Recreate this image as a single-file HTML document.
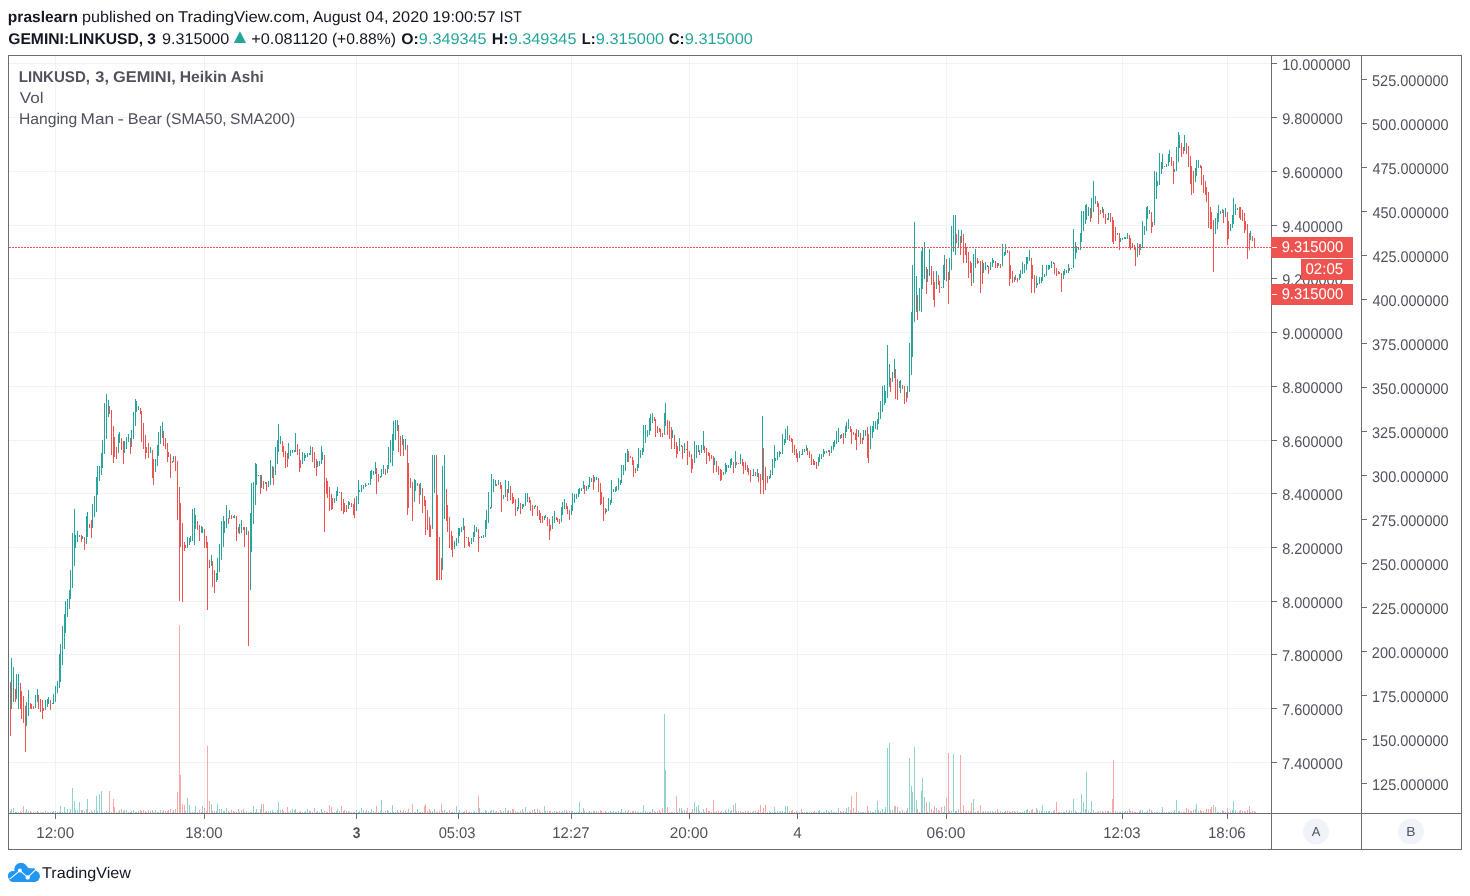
<!DOCTYPE html>
<html lang="en">
<head>
<meta charset="utf-8">
<title>LINKUSD chart - TradingView</title>
<style>
html,body{margin:0;padding:0;background:#fff;}
body{width:1470px;height:896px;overflow:hidden;font-family:"Liberation Sans", "DejaVu Sans", sans-serif;}
svg{display:block;}
text{white-space:pre;}
</style>
</head>
<body>
<svg width="1470" height="896" viewBox="0 0 1470 896">
<rect x="0" y="0" width="1470" height="896" fill="#ffffff"/>
<g shape-rendering="crispEdges">
<rect x="9" y="63" width="1262" height="1" fill="#f1f2f8"/>
<rect x="9" y="117" width="1262" height="1" fill="#f1f2f8"/>
<rect x="9" y="171" width="1262" height="1" fill="#f1f2f8"/>
<rect x="9" y="225" width="1262" height="1" fill="#f1f2f8"/>
<rect x="9" y="278" width="1262" height="1" fill="#f1f2f8"/>
<rect x="9" y="332" width="1262" height="1" fill="#f1f2f8"/>
<rect x="9" y="386" width="1262" height="1" fill="#f1f2f8"/>
<rect x="9" y="440" width="1262" height="1" fill="#f1f2f8"/>
<rect x="9" y="493" width="1262" height="1" fill="#f1f2f8"/>
<rect x="9" y="547" width="1262" height="1" fill="#f1f2f8"/>
<rect x="9" y="601" width="1262" height="1" fill="#f1f2f8"/>
<rect x="9" y="654" width="1262" height="1" fill="#f1f2f8"/>
<rect x="9" y="708" width="1262" height="1" fill="#f1f2f8"/>
<rect x="9" y="762" width="1262" height="1" fill="#f1f2f8"/>
<rect x="55" y="56" width="1" height="757" fill="#f1f2f8"/>
<rect x="204" y="56" width="1" height="757" fill="#f1f2f8"/>
<rect x="356" y="56" width="1" height="757" fill="#f1f2f8"/>
<rect x="458" y="56" width="1" height="757" fill="#f1f2f8"/>
<rect x="571" y="56" width="1" height="757" fill="#f1f2f8"/>
<rect x="689" y="56" width="1" height="757" fill="#f1f2f8"/>
<rect x="797" y="56" width="1" height="757" fill="#f1f2f8"/>
<rect x="946" y="56" width="1" height="757" fill="#f1f2f8"/>
<rect x="1122" y="56" width="1" height="757" fill="#f1f2f8"/>
<rect x="1227" y="56" width="1" height="757" fill="#f1f2f8"/>
</g>
<g shape-rendering="crispEdges">
<path fill="#92d2cc" d="M11 809v4h1v-4zM13 808v5h1v-5zM16 812v1h1v-1zM18 812v1h1v-1zM26 809v4h1v-4zM28 811v2h1v-2zM35 812v1h1v-1zM37 811v2h1v-2zM45 811v2h1v-2zM47 812v1h1v-1zM48 812v1h1v-1zM52 812v1h1v-1zM53 811v2h1v-2zM55 811v2h1v-2zM57 812v1h1v-1zM59 812v1h1v-1zM60 806v7h1v-7zM62 812v1h1v-1zM64 807v6h1v-6zM65 812v1h1v-1zM67 809v4h1v-4zM69 812v1h1v-1zM70 809v4h1v-4zM72 788v25h1v-25zM74 801v12h1v-12zM75 810v3h1v-3zM77 810v3h1v-3zM79 802v11h1v-11zM82 810v3h1v-3zM86 809v4h1v-4zM87 799v14h1v-14zM92 812v1h1v-1zM94 810v3h1v-3zM96 796v17h1v-17zM97 811v2h1v-2zM99 794v19h1v-19zM101 791v22h1v-22zM102 812v1h1v-1zM104 812v1h1v-1zM106 811v2h1v-2zM108 812v1h1v-1zM118 812v1h1v-1zM119 810v3h1v-3zM124 810v3h1v-3zM126 810v3h1v-3zM128 812v1h1v-1zM131 811v2h1v-2zM133 810v3h1v-3zM135 812v1h1v-1zM136 812v1h1v-1zM138 811v2h1v-2zM150 811v2h1v-2zM155 810v3h1v-3zM157 812v1h1v-1zM158 812v1h1v-1zM160 810v3h1v-3zM162 812v1h1v-1zM173 810v3h1v-3zM187 798v15h1v-15zM189 805v8h1v-8zM190 812v1h1v-1zM192 812v1h1v-1zM194 812v1h1v-1zM195 806v7h1v-7zM201 812v1h1v-1zM202 806v7h1v-7zM211 804v9h1v-9zM216 811v2h1v-2zM217 804v9h1v-9zM219 809v4h1v-4zM221 809v4h1v-4zM223 811v2h1v-2zM224 811v2h1v-2zM226 808v5h1v-5zM229 812v1h1v-1zM234 812v1h1v-1zM239 812v1h1v-1zM241 810v3h1v-3zM246 811v2h1v-2zM250 812v1h1v-1zM251 812v1h1v-1zM253 806v7h1v-7zM255 812v1h1v-1zM256 809v4h1v-4zM258 812v1h1v-1zM261 804v9h1v-9zM265 812v1h1v-1zM268 811v2h1v-2zM270 811v2h1v-2zM272 810v3h1v-3zM275 812v1h1v-1zM277 810v3h1v-3zM278 802v11h1v-11zM280 810v3h1v-3zM288 812v1h1v-1zM290 811v2h1v-2zM292 809v4h1v-4zM294 810v3h1v-3zM295 809v4h1v-4zM302 812v1h1v-1zM304 812v1h1v-1zM305 811v2h1v-2zM307 809v4h1v-4zM309 811v2h1v-2zM310 811v2h1v-2zM317 811v2h1v-2zM319 812v1h1v-1zM321 809v4h1v-4zM322 812v1h1v-1zM334 812v1h1v-1zM336 811v2h1v-2zM337 809v4h1v-4zM339 811v2h1v-2zM348 811v2h1v-2zM349 812v1h1v-1zM356 810v3h1v-3zM358 812v1h1v-1zM359 811v2h1v-2zM361 808v5h1v-5zM363 810v3h1v-3zM365 812v1h1v-1zM368 811v2h1v-2zM370 812v1h1v-1zM371 809v4h1v-4zM373 811v2h1v-2zM375 812v1h1v-1zM380 811v2h1v-2zM381 800v13h1v-13zM383 812v1h1v-1zM387 810v3h1v-3zM388 811v2h1v-2zM390 812v1h1v-1zM392 805v8h1v-8zM393 812v1h1v-1zM395 812v1h1v-1zM397 810v3h1v-3zM402 812v1h1v-1zM405 811v2h1v-2zM414 812v1h1v-1zM415 812v1h1v-1zM417 809v4h1v-4zM420 812v1h1v-1zM432 811v2h1v-2zM434 809v4h1v-4zM442 811v2h1v-2zM444 810v3h1v-3zM454 812v1h1v-1zM456 806v7h1v-7zM458 812v1h1v-1zM459 810v3h1v-3zM461 812v1h1v-1zM463 812v1h1v-1zM471 812v1h1v-1zM473 812v1h1v-1zM474 811v2h1v-2zM476 812v1h1v-1zM479 808v5h1v-5zM481 812v1h1v-1zM483 812v1h1v-1zM485 810v3h1v-3zM486 811v2h1v-2zM488 812v1h1v-1zM491 810v3h1v-3zM493 810v3h1v-3zM495 812v1h1v-1zM498 812v1h1v-1zM503 811v2h1v-2zM505 808v5h1v-5zM508 810v3h1v-3zM517 812v1h1v-1zM518 812v1h1v-1zM523 812v1h1v-1zM525 807v6h1v-6zM527 812v1h1v-1zM534 809v4h1v-4zM535 812v1h1v-1zM544 806v7h1v-7zM545 811v2h1v-2zM552 812v1h1v-1zM554 811v2h1v-2zM561 812v1h1v-1zM562 811v2h1v-2zM564 810v3h1v-3zM571 811v2h1v-2zM572 811v2h1v-2zM574 812v1h1v-1zM576 812v1h1v-1zM578 812v1h1v-1zM579 802v11h1v-11zM581 812v1h1v-1zM583 808v5h1v-5zM586 812v1h1v-1zM588 812v1h1v-1zM589 811v2h1v-2zM591 812v1h1v-1zM594 811v2h1v-2zM596 811v2h1v-2zM606 812v1h1v-1zM608 812v1h1v-1zM610 811v2h1v-2zM611 812v1h1v-1zM613 811v2h1v-2zM615 812v1h1v-1zM616 812v1h1v-1zM618 811v2h1v-2zM620 812v1h1v-1zM621 809v4h1v-4zM623 812v1h1v-1zM625 811v2h1v-2zM627 812v1h1v-1zM637 812v1h1v-1zM638 812v1h1v-1zM640 812v1h1v-1zM642 812v1h1v-1zM643 805v8h1v-8zM645 811v2h1v-2zM647 812v1h1v-1zM649 812v1h1v-1zM650 812v1h1v-1zM652 809v4h1v-4zM664 714v99h1v-99zM665 770v43h1v-43zM672 812v1h1v-1zM679 808v5h1v-5zM681 808v5h1v-5zM684 810v3h1v-3zM694 802v11h1v-11zM696 807v6h1v-6zM698 805v8h1v-8zM701 812v1h1v-1zM703 809v4h1v-4zM714 812v1h1v-1zM723 812v1h1v-1zM725 810v3h1v-3zM726 812v1h1v-1zM728 809v4h1v-4zM730 811v2h1v-2zM731 810v3h1v-3zM735 803v10h1v-10zM740 811v2h1v-2zM752 812v1h1v-1zM753 811v2h1v-2zM757 812v1h1v-1zM762 812v1h1v-1zM769 811v2h1v-2zM770 812v1h1v-1zM772 812v1h1v-1zM774 807v6h1v-6zM775 812v1h1v-1zM777 811v2h1v-2zM779 812v1h1v-1zM780 811v2h1v-2zM782 811v2h1v-2zM784 812v1h1v-1zM785 806v7h1v-7zM787 806v7h1v-7zM799 812v1h1v-1zM802 812v1h1v-1zM804 812v1h1v-1zM806 812v1h1v-1zM818 811v2h1v-2zM819 810v3h1v-3zM821 812v1h1v-1zM823 812v1h1v-1zM824 812v1h1v-1zM826 810v3h1v-3zM828 811v2h1v-2zM831 810v3h1v-3zM833 812v1h1v-1zM834 812v1h1v-1zM836 812v1h1v-1zM838 808v5h1v-5zM841 812v1h1v-1zM845 812v1h1v-1zM846 808v5h1v-5zM848 807v6h1v-6zM858 811v2h1v-2zM863 812v1h1v-1zM865 812v1h1v-1zM870 811v2h1v-2zM872 812v1h1v-1zM873 812v1h1v-1zM875 810v3h1v-3zM877 801v12h1v-12zM878 810v3h1v-3zM880 811v2h1v-2zM882 809v4h1v-4zM884 812v1h1v-1zM885 807v6h1v-6zM887 748v65h1v-65zM889 743v70h1v-70zM892 810v3h1v-3zM894 806v7h1v-7zM899 811v2h1v-2zM900 812v1h1v-1zM907 808v5h1v-5zM909 758v55h1v-55zM911 786v27h1v-27zM912 792v21h1v-21zM914 747v66h1v-66zM916 800v13h1v-13zM919 812v1h1v-1zM921 791v22h1v-22zM922 778v35h1v-35zM924 797v16h1v-16zM927 812v1h1v-1zM929 802v11h1v-11zM936 808v5h1v-5zM943 812v1h1v-1zM944 806v7h1v-7zM949 811v2h1v-2zM951 811v2h1v-2zM953 754v59h1v-59zM955 811v2h1v-2zM958 809v4h1v-4zM961 812v1h1v-1zM973 799v14h1v-14zM975 812v1h1v-1zM983 811v2h1v-2zM985 811v2h1v-2zM987 812v1h1v-1zM990 811v2h1v-2zM992 811v2h1v-2zM993 812v1h1v-1zM998 812v1h1v-1zM1002 812v1h1v-1zM1004 812v1h1v-1zM1005 811v2h1v-2zM1015 812v1h1v-1zM1019 812v1h1v-1zM1020 812v1h1v-1zM1022 812v1h1v-1zM1024 811v2h1v-2zM1026 810v3h1v-3zM1027 809v4h1v-4zM1029 811v2h1v-2zM1036 808v5h1v-5zM1039 811v2h1v-2zM1041 811v2h1v-2zM1042 805v8h1v-8zM1044 811v2h1v-2zM1046 811v2h1v-2zM1048 811v2h1v-2zM1049 811v2h1v-2zM1051 812v1h1v-1zM1053 811v2h1v-2zM1063 812v1h1v-1zM1064 812v1h1v-1zM1066 810v3h1v-3zM1068 812v1h1v-1zM1071 811v2h1v-2zM1073 799v14h1v-14zM1075 811v2h1v-2zM1076 812v1h1v-1zM1078 812v1h1v-1zM1080 812v1h1v-1zM1081 794v19h1v-19zM1083 802v11h1v-11zM1085 809v4h1v-4zM1086 772v41h1v-41zM1088 811v2h1v-2zM1091 801v12h1v-12zM1093 810v3h1v-3zM1095 812v1h1v-1zM1102 811v2h1v-2zM1108 811v2h1v-2zM1117 812v1h1v-1zM1120 812v1h1v-1zM1122 811v2h1v-2zM1124 812v1h1v-1zM1125 811v2h1v-2zM1127 811v2h1v-2zM1137 812v1h1v-1zM1140 810v3h1v-3zM1142 810v3h1v-3zM1144 812v1h1v-1zM1146 812v1h1v-1zM1147 811v2h1v-2zM1149 809v4h1v-4zM1154 812v1h1v-1zM1156 812v1h1v-1zM1157 812v1h1v-1zM1159 812v1h1v-1zM1161 812v1h1v-1zM1162 807v6h1v-6zM1166 812v1h1v-1zM1168 812v1h1v-1zM1169 812v1h1v-1zM1174 810v3h1v-3zM1176 800v13h1v-13zM1178 811v2h1v-2zM1179 811v2h1v-2zM1184 812v1h1v-1zM1195 809v4h1v-4zM1196 804v9h1v-9zM1198 811v2h1v-2zM1215 807v6h1v-6zM1217 812v1h1v-1zM1218 812v1h1v-1zM1220 812v1h1v-1zM1222 810v3h1v-3zM1225 812v1h1v-1zM1230 811v2h1v-2zM1232 810v3h1v-3zM1233 801v12h1v-12zM1235 810v3h1v-3zM1237 812v1h1v-1zM1250 812v1h1v-1z"/>
<path fill="#f7a9a7" d="M10 811v2h1v-2zM15 812v1h1v-1zM20 811v2h1v-2zM21 812v1h1v-1zM23 806v7h1v-7zM25 812v1h1v-1zM30 811v2h1v-2zM31 812v1h1v-1zM33 812v1h1v-1zM38 812v1h1v-1zM40 812v1h1v-1zM42 812v1h1v-1zM43 812v1h1v-1zM50 812v1h1v-1zM81 810v3h1v-3zM84 811v2h1v-2zM89 812v1h1v-1zM91 810v3h1v-3zM109 791v22h1v-22zM111 812v1h1v-1zM113 799v14h1v-14zM114 807v6h1v-6zM116 812v1h1v-1zM121 809v4h1v-4zM123 811v2h1v-2zM130 812v1h1v-1zM140 810v3h1v-3zM141 811v2h1v-2zM143 810v3h1v-3zM145 811v2h1v-2zM146 812v1h1v-1zM148 810v3h1v-3zM152 810v3h1v-3zM153 812v1h1v-1zM163 810v3h1v-3zM165 811v2h1v-2zM167 811v2h1v-2zM168 810v3h1v-3zM170 809v4h1v-4zM172 812v1h1v-1zM175 809v4h1v-4zM177 792v21h1v-21zM179 625v188h1v-188zM180 775v38h1v-38zM182 804v9h1v-9zM184 805v8h1v-8zM185 811v2h1v-2zM197 812v1h1v-1zM199 810v3h1v-3zM204 808v5h1v-5zM206 811v2h1v-2zM207 746v67h1v-67zM209 801v12h1v-12zM212 811v2h1v-2zM214 811v2h1v-2zM228 811v2h1v-2zM231 810v3h1v-3zM233 811v2h1v-2zM236 812v1h1v-1zM238 809v4h1v-4zM243 809v4h1v-4zM244 812v1h1v-1zM248 812v1h1v-1zM260 809v4h1v-4zM263 804v9h1v-9zM266 811v2h1v-2zM273 812v1h1v-1zM282 809v4h1v-4zM283 811v2h1v-2zM285 812v1h1v-1zM287 807v6h1v-6zM297 812v1h1v-1zM299 812v1h1v-1zM300 811v2h1v-2zM312 812v1h1v-1zM314 808v5h1v-5zM316 812v1h1v-1zM324 811v2h1v-2zM326 812v1h1v-1zM327 812v1h1v-1zM329 805v8h1v-8zM331 807v6h1v-6zM332 812v1h1v-1zM341 806v7h1v-7zM343 811v2h1v-2zM344 810v3h1v-3zM346 811v2h1v-2zM351 812v1h1v-1zM353 812v1h1v-1zM354 812v1h1v-1zM366 810v3h1v-3zM376 806v7h1v-7zM378 812v1h1v-1zM385 811v2h1v-2zM398 812v1h1v-1zM400 810v3h1v-3zM403 810v3h1v-3zM407 812v1h1v-1zM408 809v4h1v-4zM410 812v1h1v-1zM412 804v9h1v-9zM419 812v1h1v-1zM422 812v1h1v-1zM424 806v7h1v-7zM425 804v9h1v-9zM427 811v2h1v-2zM429 809v4h1v-4zM430 811v2h1v-2zM436 812v1h1v-1zM437 812v1h1v-1zM439 811v2h1v-2zM441 804v9h1v-9zM446 812v1h1v-1zM447 812v1h1v-1zM449 810v3h1v-3zM451 812v1h1v-1zM452 812v1h1v-1zM464 811v2h1v-2zM466 810v3h1v-3zM468 812v1h1v-1zM469 812v1h1v-1zM478 796v17h1v-17zM490 811v2h1v-2zM496 811v2h1v-2zM500 810v3h1v-3zM501 812v1h1v-1zM507 811v2h1v-2zM510 811v2h1v-2zM512 809v4h1v-4zM513 809v4h1v-4zM515 811v2h1v-2zM520 811v2h1v-2zM522 809v4h1v-4zM529 811v2h1v-2zM530 812v1h1v-1zM532 810v3h1v-3zM537 809v4h1v-4zM539 810v3h1v-3zM540 812v1h1v-1zM542 812v1h1v-1zM547 811v2h1v-2zM549 811v2h1v-2zM550 811v2h1v-2zM556 811v2h1v-2zM557 812v1h1v-1zM559 811v2h1v-2zM566 810v3h1v-3zM567 812v1h1v-1zM569 811v2h1v-2zM584 811v2h1v-2zM593 811v2h1v-2zM598 812v1h1v-1zM600 810v3h1v-3zM601 811v2h1v-2zM603 812v1h1v-1zM605 811v2h1v-2zM628 810v3h1v-3zM630 812v1h1v-1zM632 811v2h1v-2zM633 811v2h1v-2zM635 811v2h1v-2zM654 811v2h1v-2zM655 812v1h1v-1zM657 811v2h1v-2zM659 810v3h1v-3zM660 812v1h1v-1zM662 808v5h1v-5zM667 807v6h1v-6zM669 812v1h1v-1zM671 812v1h1v-1zM674 812v1h1v-1zM676 796v17h1v-17zM677 812v1h1v-1zM682 811v2h1v-2zM686 811v2h1v-2zM687 808v5h1v-5zM689 812v1h1v-1zM691 812v1h1v-1zM692 809v4h1v-4zM699 811v2h1v-2zM704 812v1h1v-1zM706 808v5h1v-5zM708 811v2h1v-2zM709 811v2h1v-2zM711 812v1h1v-1zM713 800v13h1v-13zM716 811v2h1v-2zM718 811v2h1v-2zM720 812v1h1v-1zM721 811v2h1v-2zM733 805v8h1v-8zM736 811v2h1v-2zM738 811v2h1v-2zM742 812v1h1v-1zM743 812v1h1v-1zM745 811v2h1v-2zM747 812v1h1v-1zM748 811v2h1v-2zM750 812v1h1v-1zM755 811v2h1v-2zM758 810v3h1v-3zM760 805v8h1v-8zM763 808v5h1v-5zM765 805v8h1v-8zM767 812v1h1v-1zM789 811v2h1v-2zM791 811v2h1v-2zM792 810v3h1v-3zM794 812v1h1v-1zM796 811v2h1v-2zM797 812v1h1v-1zM801 809v4h1v-4zM807 812v1h1v-1zM809 812v1h1v-1zM811 812v1h1v-1zM813 812v1h1v-1zM814 811v2h1v-2zM816 812v1h1v-1zM829 812v1h1v-1zM840 811v2h1v-2zM843 811v2h1v-2zM850 810v3h1v-3zM851 796v17h1v-17zM853 808v5h1v-5zM855 812v1h1v-1zM856 792v21h1v-21zM860 812v1h1v-1zM862 812v1h1v-1zM867 806v7h1v-7zM868 811v2h1v-2zM890 810v3h1v-3zM895 806v7h1v-7zM897 807v6h1v-6zM902 810v3h1v-3zM904 812v1h1v-1zM906 811v2h1v-2zM917 809v4h1v-4zM926 802v11h1v-11zM931 809v4h1v-4zM933 811v2h1v-2zM934 806v7h1v-7zM938 810v3h1v-3zM939 811v2h1v-2zM941 807v6h1v-6zM946 798v15h1v-15zM948 753v60h1v-60zM956 811v2h1v-2zM960 755v58h1v-58zM963 805v8h1v-8zM965 812v1h1v-1zM966 811v2h1v-2zM968 811v2h1v-2zM970 811v2h1v-2zM971 803v10h1v-10zM977 811v2h1v-2zM978 811v2h1v-2zM980 805v8h1v-8zM982 812v1h1v-1zM988 811v2h1v-2zM995 811v2h1v-2zM997 809v4h1v-4zM1000 811v2h1v-2zM1007 811v2h1v-2zM1009 811v2h1v-2zM1010 812v1h1v-1zM1012 811v2h1v-2zM1014 811v2h1v-2zM1017 811v2h1v-2zM1031 810v3h1v-3zM1032 809v4h1v-4zM1034 812v1h1v-1zM1037 810v3h1v-3zM1054 810v3h1v-3zM1056 802v11h1v-11zM1058 812v1h1v-1zM1059 812v1h1v-1zM1061 812v1h1v-1zM1069 810v3h1v-3zM1090 812v1h1v-1zM1097 812v1h1v-1zM1098 811v2h1v-2zM1100 811v2h1v-2zM1103 812v1h1v-1zM1105 811v2h1v-2zM1107 811v2h1v-2zM1110 812v1h1v-1zM1112 799v14h1v-14zM1113 760v53h1v-53zM1115 811v2h1v-2zM1119 812v1h1v-1zM1129 809v4h1v-4zM1130 811v2h1v-2zM1132 811v2h1v-2zM1134 812v1h1v-1zM1135 812v1h1v-1zM1139 811v2h1v-2zM1151 810v3h1v-3zM1152 812v1h1v-1zM1164 812v1h1v-1zM1171 812v1h1v-1zM1173 812v1h1v-1zM1181 812v1h1v-1zM1183 812v1h1v-1zM1186 808v5h1v-5zM1188 809v4h1v-4zM1190 811v2h1v-2zM1191 811v2h1v-2zM1193 810v3h1v-3zM1200 810v3h1v-3zM1201 811v2h1v-2zM1203 811v2h1v-2zM1205 812v1h1v-1zM1206 809v4h1v-4zM1208 809v4h1v-4zM1210 809v4h1v-4zM1211 807v6h1v-6zM1213 805v8h1v-8zM1223 811v2h1v-2zM1227 808v5h1v-5zM1228 812v1h1v-1zM1239 811v2h1v-2zM1240 810v3h1v-3zM1242 811v2h1v-2zM1244 811v2h1v-2zM1245 812v1h1v-1zM1247 810v3h1v-3zM1249 806v7h1v-7zM1252 811v2h1v-2zM1254 811v2h1v-2zM1255 812v1h1v-1z"/>
<path fill="#26a69a" d="M11 658v51h1v-51zM13 667v35h1v-35zM16 674v25h1v-25zM18 674v35h1v-35zM26 702v24h1v-24zM28 690v26h1v-26zM35 695v13h1v-13zM37 689v13h1v-13zM45 700v10h1v-10zM47 699v8h1v-8zM48 697v7h1v-7zM52 703v1h1v-1zM53 694v10h1v-10zM55 686v16h1v-16zM57 681v12h1v-12zM59 654v34h1v-34zM60 644v38h1v-38zM62 626v39h1v-39zM64 614v35h1v-35zM65 601v32h1v-32zM67 599v18h1v-18zM69 590v19h1v-19zM70 570v29h1v-29zM72 533v55h1v-55zM74 509v57h1v-57zM75 535v13h1v-13zM77 531v11h1v-11zM79 535v2h1v-2zM82 536v3h1v-3zM86 516v28h1v-28zM87 512v25h1v-25zM92 504v24h1v-24zM94 496v21h1v-21zM96 477v35h1v-35zM97 466v29h1v-29zM99 466v15h1v-15zM101 453v22h1v-22zM102 440v28h1v-28zM104 403v51h1v-51zM106 394v45h1v-45zM108 400v17h1v-17zM118 434v19h1v-19zM119 432v11h1v-11zM124 441v12h1v-12zM126 437v12h1v-12zM128 434v8h1v-8zM131 430v17h1v-17zM133 412v27h1v-27zM135 399v27h1v-27zM136 401v11h1v-11zM138 406v4h1v-4zM150 447v6h1v-6zM155 459v13h1v-13zM157 445v21h1v-21zM158 432v24h1v-24zM160 426v18h1v-18zM162 422v16h1v-16zM173 456v6h1v-6zM187 537v11h1v-11zM189 538v7h1v-7zM190 536v6h1v-6zM192 509v32h1v-32zM194 508v37h1v-37zM195 515v14h1v-14zM201 526v7h1v-7zM202 527v6h1v-6zM211 555v11h1v-11zM216 573v9h1v-9zM217 558v22h1v-22zM219 544v28h1v-28zM221 521v39h1v-39zM223 516v31h1v-31zM224 521v12h1v-12zM226 505v23h1v-23zM229 510v9h1v-9zM234 515v3h1v-3zM239 524v10h1v-10zM241 520v13h1v-13zM246 527v8h1v-8zM250 513v77h1v-77zM251 483v69h1v-69zM253 482v42h1v-42zM255 463v42h1v-42zM256 464v21h1v-21zM258 475v1h1v-1zM261 475v13h1v-13zM265 482v2h1v-2zM268 481v6h1v-6zM270 460v25h1v-25zM272 466v12h1v-12zM275 447v28h1v-28zM277 440v24h1v-24zM278 424v28h1v-28zM280 436v8h1v-8zM288 443v16h1v-16zM290 450v6h1v-6zM292 450v3h1v-3zM294 450v2h1v-2zM295 433v19h1v-19zM302 452v12h1v-12zM304 453v8h1v-8zM305 455v3h1v-3zM307 453v4h1v-4zM309 453v2h1v-2zM310 446v9h1v-9zM317 461v6h1v-6zM319 461v5h1v-5zM321 446v18h1v-18zM322 452v8h1v-8zM334 498v5h1v-5zM336 491v10h1v-10zM337 487v9h1v-9zM339 492v1h1v-1zM348 501v8h1v-8zM349 502v3h1v-3zM356 496v15h1v-15zM358 480v24h1v-24zM359 490v2h1v-2zM361 485v7h1v-7zM363 485v4h1v-4zM365 483v4h1v-4zM368 483v2h1v-2zM370 471v14h1v-14zM371 470v9h1v-9zM373 471v4h1v-4zM375 462v12h1v-12zM380 476v2h1v-2zM381 469v8h1v-8zM383 465v9h1v-9zM387 465v8h1v-8zM388 447v22h1v-22zM390 440v23h1v-23zM392 434v32h1v-32zM393 421v30h1v-30zM395 420v20h1v-20zM397 420v11h1v-11zM402 435v10h1v-10zM405 439v11h1v-11zM414 479v23h1v-23zM415 480v11h1v-11zM417 483v3h1v-3zM420 483v12h1v-12zM432 455v74h1v-74zM434 455v38h1v-38zM442 466v104h1v-104zM444 455v64h1v-64zM454 541v8h1v-8zM456 538v8h1v-8zM458 528v15h1v-15zM459 528v8h1v-8zM461 527v5h1v-5zM463 518v12h1v-12zM471 538v6h1v-6zM473 532v10h1v-10zM474 525v12h1v-12zM476 527v5h1v-5zM479 537v1h1v-1zM481 536v2h1v-2zM483 535v3h1v-3zM485 520v17h1v-17zM486 510v19h1v-19zM488 492v31h1v-31zM491 474v34h1v-34zM493 479v13h1v-13zM495 480v6h1v-6zM498 480v5h1v-5zM503 495v4h1v-4zM505 480v17h1v-17zM508 481v12h1v-12zM517 507v4h1v-4zM518 498v11h1v-11zM522 504v5h1v-5zM523 504v3h1v-3zM525 493v13h1v-13zM527 493v9h1v-9zM534 506v3h1v-3zM535 505v2h1v-2zM544 516v4h1v-4zM545 515v3h1v-3zM552 516v13h1v-13zM554 511v12h1v-12zM561 507v15h1v-15zM562 502v13h1v-13zM564 499v10h1v-10zM571 505v10h1v-10zM572 493v18h1v-18zM574 494v9h1v-9zM576 494v5h1v-5zM578 489v8h1v-8zM579 488v6h1v-6zM581 488v3h1v-3zM583 481v8h1v-8zM586 486v5h1v-5zM588 485v4h1v-4zM589 477v10h1v-10zM591 478v4h1v-4zM594 477v5h1v-5zM596 477v3h1v-3zM606 509v3h1v-3zM608 498v13h1v-13zM610 500v5h1v-5zM611 480v23h1v-23zM613 489v3h1v-3zM615 487v5h1v-5zM616 486v5h1v-5zM618 478v12h1v-12zM620 480v5h1v-5zM621 465v18h1v-18zM623 465v10h1v-10zM625 453v18h1v-18zM627 449v13h1v-13zM637 464v7h1v-7zM638 448v20h1v-20zM640 450v8h1v-8zM642 448v7h1v-7zM643 425v27h1v-27zM645 425v18h1v-18zM647 430v7h1v-7zM649 418v17h1v-17zM650 414v17h1v-17zM652 413v10h1v-10zM664 413v22h1v-22zM665 403v23h1v-23zM672 430v8h1v-8zM679 438v13h1v-13zM681 445v2h1v-2zM684 443v10h1v-10zM694 441v22h1v-22zM696 445v13h1v-13zM698 445v7h1v-7zM701 445v8h1v-8zM703 431v19h1v-19zM714 458v7h1v-7zM723 472v3h1v-3zM725 463v11h1v-11zM726 465v7h1v-7zM728 465v3h1v-3zM730 459v9h1v-9zM731 458v7h1v-7zM735 451v17h1v-17zM740 454v10h1v-10zM752 475v1h1v-1zM753 469v7h1v-7zM757 469v8h1v-8zM762 416v64h1v-64zM769 476v3h1v-3zM770 470v8h1v-8zM772 459v16h1v-16zM774 445v23h1v-23zM775 458v3h1v-3zM777 452v8h1v-8zM779 451v6h1v-6zM780 452v2h1v-2zM782 434v20h1v-20zM784 439v6h1v-6zM785 429v14h1v-14zM787 426v14h1v-14zM799 451v7h1v-7zM801 454v1h1v-1zM802 449v6h1v-6zM804 449v3h1v-3zM806 445v6h1v-6zM818 457v9h1v-9zM819 454v8h1v-8zM821 454v5h1v-5zM823 449v8h1v-8zM824 451v3h1v-3zM826 451v2h1v-2zM828 450v2h1v-2zM831 446v7h1v-7zM833 442v8h1v-8zM834 440v7h1v-7zM836 431v13h1v-13zM838 428v14h1v-14zM841 434v4h1v-4zM845 426v12h1v-12zM846 422v10h1v-10zM848 419v10h1v-10zM858 430v7h1v-7zM863 430v10h1v-10zM865 430v6h1v-6zM870 426v23h1v-23zM872 426v12h1v-12zM873 421v11h1v-11zM875 421v8h1v-8zM877 419v11h1v-11zM878 412v12h1v-12zM880 401v18h1v-18zM882 386v26h1v-26zM884 385v20h1v-20zM885 391v12h1v-12zM887 345v53h1v-53zM889 364v23h1v-23zM892 372v10h1v-10zM894 359v19h1v-19zM899 381v7h1v-7zM900 380v13h1v-13zM907 386v12h1v-12zM909 343v49h1v-49zM911 312v63h1v-63zM912 265v92h1v-92zM914 222v100h1v-100zM916 276v36h1v-36zM919 288v23h1v-23zM921 251v61h1v-61zM922 248v41h1v-41zM924 242v37h1v-37zM927 269v13h1v-13zM929 249v27h1v-27zM936 271v18h1v-18zM943 265v23h1v-23zM944 255v25h1v-25zM949 258v22h1v-22zM951 226v44h1v-44zM953 215v37h1v-37zM955 215v40h1v-40zM958 230v17h1v-17zM961 230v13h1v-13zM973 254v29h1v-29zM975 249v19h1v-19zM983 263v10h1v-10zM985 262v8h1v-8zM987 265v2h1v-2zM990 262v8h1v-8zM992 258v9h1v-9zM993 260v3h1v-3zM998 263v3h1v-3zM1002 244v22h1v-22zM1004 252v4h1v-4zM1005 244v11h1v-11zM1015 275v5h1v-5zM1019 274v6h1v-6zM1020 270v8h1v-8zM1022 262v12h1v-12zM1024 264v9h1v-9zM1026 257v13h1v-13zM1027 257v7h1v-7zM1029 250v11h1v-11zM1036 276v12h1v-12zM1039 277v7h1v-7zM1041 277v6h1v-6zM1042 265v16h1v-16zM1044 274v3h1v-3zM1046 265v11h1v-11zM1048 265v5h1v-5zM1049 265v4h1v-4zM1051 261v7h1v-7zM1053 262v2h1v-2zM1063 271v8h1v-8zM1064 269v6h1v-6zM1066 270v3h1v-3zM1068 264v9h1v-9zM1071 268v1h1v-1zM1073 229v39h1v-39zM1075 242v17h1v-17zM1076 246v7h1v-7zM1078 248v2h1v-2zM1080 233v17h1v-17zM1081 211v31h1v-31zM1083 211v20h1v-20zM1085 205v19h1v-19zM1086 204v16h1v-16zM1088 207v9h1v-9zM1091 198v20h1v-20zM1093 181v31h1v-31zM1095 196v8h1v-8zM1102 207v6h1v-6zM1108 213v7h1v-7zM1117 233v2h1v-2zM1120 238v4h1v-4zM1122 238v2h1v-2zM1124 237v2h1v-2zM1125 237v2h1v-2zM1127 233v6h1v-6zM1137 243v14h1v-14zM1140 244v6h1v-6zM1142 221v27h1v-27zM1144 226v9h1v-9zM1146 207v24h1v-24zM1147 206v13h1v-13zM1149 210v4h1v-4zM1154 171v54h1v-54zM1156 172v27h1v-27zM1157 181v5h1v-5zM1159 153v32h1v-32zM1161 162v12h1v-12zM1162 154v15h1v-15zM1166 164v3h1v-3zM1168 154v12h1v-12zM1169 150v12h1v-12zM1174 169v3h1v-3zM1176 147v24h1v-24zM1178 132v30h1v-30zM1179 135v13h1v-13zM1184 135v16h1v-16zM1195 168v14h1v-14zM1196 160v16h1v-16zM1198 160v8h1v-8zM1215 218v16h1v-16zM1217 213v16h1v-16zM1218 205v17h1v-17zM1220 211v3h1v-3zM1222 209v4h1v-4zM1225 208v9h1v-9zM1230 224v7h1v-7zM1232 215v13h1v-13zM1233 198v26h1v-26zM1235 204v11h1v-11zM1237 208v2h1v-2zM1250 231v9h1v-9z"/>
<path fill="#ef5350" d="M10 682v54h1v-54zM15 689v13h1v-13zM20 683v26h1v-26zM21 691v28h1v-28zM23 696v27h1v-27zM25 706v46h1v-46zM30 703v6h1v-6zM31 704v5h1v-5zM33 706v3h1v-3zM38 695v14h1v-14zM40 699v13h1v-13zM42 700v19h1v-19zM43 708v3h1v-3zM50 700v10h1v-10zM81 535v7h1v-7zM84 537v13h1v-13zM89 524v4h1v-4zM91 520v18h1v-18zM109 406v8h1v-8zM111 410v45h1v-45zM113 426v37h1v-37zM114 437v20h1v-20zM116 447v12h1v-12zM121 438v12h1v-12zM123 441v23h1v-23zM130 438v16h1v-16zM140 408v6h1v-6zM141 411v31h1v-31zM143 423v26h1v-26zM145 435v24h1v-24zM146 447v6h1v-6zM148 443v15h1v-15zM152 450v28h1v-28zM153 459v26h1v-26zM163 431v15h1v-15zM165 438v11h1v-11zM167 443v19h1v-19zM168 452v5h1v-5zM170 454v24h1v-24zM172 461v2h1v-2zM175 456v15h1v-15zM177 461v59h1v-59zM179 487v114h1v-114zM180 503v44h1v-44zM182 523v79h1v-79zM184 542v9h1v-9zM185 545v3h1v-3zM197 521v9h1v-9zM199 525v16h1v-16zM204 529v19h1v-19zM206 536v12h1v-12zM207 542v68h1v-68zM209 560v8h1v-8zM212 561v26h1v-26zM214 570v23h1v-23zM228 518v6h1v-6zM231 515v4h1v-4zM233 516v2h1v-2zM236 516v25h1v-25zM238 527v6h1v-6zM243 527v3h1v-3zM244 527v20h1v-20zM248 531v115h1v-115zM260 475v19h1v-19zM263 481v8h1v-8zM266 482v9h1v-9zM273 467v18h1v-18zM282 441v11h1v-11zM283 446v11h1v-11zM285 451v17h1v-17zM287 453v14h1v-14zM297 444v11h1v-11zM299 449v23h1v-23zM300 460v8h1v-8zM312 447v15h1v-15zM314 452v16h1v-16zM316 459v17h1v-17zM324 455v77h1v-77zM326 478v16h1v-16zM327 481v17h1v-17zM329 487v24h1v-24zM331 494v16h1v-16zM332 498v11h1v-11zM341 492v19h1v-19zM343 499v15h1v-15zM344 503v9h1v-9zM346 505v7h1v-7zM351 503v4h1v-4zM353 504v11h1v-11zM354 498v20h1v-20zM366 485v1h1v-1zM376 468v26h1v-26zM378 474v8h1v-8zM385 469v6h1v-6zM398 425v27h1v-27zM400 436v20h1v-20zM403 439v17h1v-17zM407 445v70h1v-70zM408 463v45h1v-45zM410 478v10h1v-10zM412 482v39h1v-39zM419 484v20h1v-20zM422 488v25h1v-25zM424 496v10h1v-10zM425 500v35h1v-35zM427 510v20h1v-20zM429 517v20h1v-20zM430 525v12h1v-12zM436 455v125h1v-125zM437 495v85h1v-85zM439 537v43h1v-43zM441 558v22h1v-22zM446 489v32h1v-32zM447 505v27h1v-27zM449 517v31h1v-31zM451 531v19h1v-19zM452 536v21h1v-21zM464 526v22h1v-22zM466 537v1h1v-1zM468 537v9h1v-9zM469 542v5h1v-5zM478 529v23h1v-23zM490 507v2h1v-2zM496 484v2h1v-2zM500 482v7h1v-7zM501 485v27h1v-27zM507 489v12h1v-12zM510 486v14h1v-14zM512 493v11h1v-11zM513 497v6h1v-6zM515 499v17h1v-17zM520 503v11h1v-11zM529 497v6h1v-6zM530 500v11h1v-11zM532 505v11h1v-11zM537 506v10h1v-10zM539 510v10h1v-10zM540 513v10h1v-10zM542 516v7h1v-7zM547 517v9h1v-9zM549 519v21h1v-21zM550 525v6h1v-6zM556 517v3h1v-3zM557 518v4h1v-4zM559 519v5h1v-5zM566 503v6h1v-6zM567 506v8h1v-8zM569 510v10h1v-10zM584 485v9h1v-9zM593 475v15h1v-15zM598 478v14h1v-14zM600 483v22h1v-22zM601 492v12h1v-12zM603 497v24h1v-24zM605 508v6h1v-6zM628 451v11h1v-11zM630 456v2h1v-2zM632 457v8h1v-8zM633 460v17h1v-17zM635 468v5h1v-5zM654 417v4h1v-4zM655 419v18h1v-18zM657 426v7h1v-7zM659 428v4h1v-4zM660 429v8h1v-8zM662 433v4h1v-4zM667 420v15h1v-15zM669 421v18h1v-18zM671 427v22h1v-22zM674 435v14h1v-14zM676 442v16h1v-16zM677 446v8h1v-8zM682 446v13h1v-13zM686 449v1h1v-1zM687 441v24h1v-24zM689 451v6h1v-6zM691 454v19h1v-19zM692 459v10h1v-10zM699 450v5h1v-5zM704 446v7h1v-7zM706 448v16h1v-16zM708 452v4h1v-4zM709 453v8h1v-8zM711 455v4h1v-4zM713 456v17h1v-17zM716 461v11h1v-11zM718 466v9h1v-9zM720 469v12h1v-12zM721 470v10h1v-10zM733 462v11h1v-11zM736 462v3h1v-3zM738 463v1h1v-1zM742 459v7h1v-7zM743 462v12h1v-12zM745 462v8h1v-8zM747 465v7h1v-7zM748 468v7h1v-7zM750 470v12h1v-12zM755 472v4h1v-4zM758 473v9h1v-9zM760 474v20h1v-20zM763 448v46h1v-46zM765 467v23h1v-23zM767 476v7h1v-7zM789 435v6h1v-6zM791 438v4h1v-4zM792 439v14h1v-14zM794 445v10h1v-10zM796 449v9h1v-9zM797 453v9h1v-9zM807 448v7h1v-7zM809 451v7h1v-7zM811 454v11h1v-11zM813 459v6h1v-6zM814 461v4h1v-4zM816 462v7h1v-7zM829 450v6h1v-6zM840 435v4h1v-4zM843 433v11h1v-11zM850 426v6h1v-6zM851 429v15h1v-15zM853 432v3h1v-3zM855 433v7h1v-7zM856 429v21h1v-21zM860 433v11h1v-11zM862 438v6h1v-6zM867 427v31h1v-31zM868 434v29h1v-29zM890 378v14h1v-14zM895 369v30h1v-30zM897 379v21h1v-21zM902 385v4h1v-4zM904 386v18h1v-18zM906 392v10h1v-10zM917 295v25h1v-25zM926 267v27h1v-27zM931 266v19h1v-19zM933 271v29h1v-29zM934 282v25h1v-25zM938 275v10h1v-10zM939 281v12h1v-12zM941 287v1h1v-1zM946 259v22h1v-22zM948 272v32h1v-32zM956 234v9h1v-9zM960 236v19h1v-19zM963 234v29h1v-29zM965 243v12h1v-12zM966 248v15h1v-15zM968 252v26h1v-26zM970 261v12h1v-12zM971 263v23h1v-23zM977 258v6h1v-6zM978 261v2h1v-2zM980 261v32h1v-32zM982 260v24h1v-24zM988 266v8h1v-8zM995 261v7h1v-7zM997 263v5h1v-5zM1000 264v4h1v-4zM1007 250v3h1v-3zM1009 251v35h1v-35zM1010 265v14h1v-14zM1012 271v12h1v-12zM1014 277v5h1v-5zM1017 278v4h1v-4zM1031 258v35h1v-35zM1032 265v14h1v-14zM1034 275v18h1v-18zM1037 283v2h1v-2zM1054 263v11h1v-11zM1056 268v8h1v-8zM1058 271v3h1v-3zM1059 272v2h1v-2zM1061 273v19h1v-19zM1069 268v3h1v-3zM1090 208v14h1v-14zM1097 201v6h1v-6zM1098 203v21h1v-21zM1100 210v4h1v-4zM1103 209v9h1v-9zM1105 214v10h1v-10zM1107 218v2h1v-2zM1110 213v9h1v-9zM1112 217v25h1v-25zM1113 220v24h1v-24zM1115 227v14h1v-14zM1119 233v17h1v-17zM1129 235v13h1v-13zM1130 238v12h1v-12zM1132 243v5h1v-5zM1134 245v5h1v-5zM1135 247v19h1v-19zM1139 244v11h1v-11zM1151 212v21h1v-21zM1152 222v5h1v-5zM1164 166v1h1v-1zM1171 157v9h1v-9zM1173 161v23h1v-23zM1181 143v14h1v-14zM1183 147v7h1v-7zM1186 143v11h1v-11zM1188 146v21h1v-21zM1190 156v28h1v-28zM1191 166v29h1v-29zM1193 171v22h1v-22zM1200 165v3h1v-3zM1201 166v19h1v-19zM1203 175v18h1v-18zM1205 181v14h1v-14zM1206 187v15h1v-15zM1208 192v36h1v-36zM1210 207v22h1v-22zM1211 212v17h1v-17zM1213 220v52h1v-52zM1223 210v13h1v-13zM1227 212v33h1v-33zM1228 221v18h1v-18zM1239 207v11h1v-11zM1240 207v13h1v-13zM1242 210v11h1v-11zM1244 213v20h1v-20zM1245 221v9h1v-9zM1247 224v35h1v-35zM1249 233v17h1v-17zM1252 236v5h1v-5zM1254 238v10h1v-10zM1255 247v1h1v-1z"/>
</g>
<g shape-rendering="crispEdges" fill="#6a6d78">
<rect x="8" y="55" width="1454" height="1"/>
<rect x="8" y="849" width="1454" height="1"/>
<rect x="8" y="55" width="1" height="795"/>
<rect x="1461" y="55" width="1" height="795"/>
<rect x="1271" y="55" width="1" height="795"/>
<rect x="1361" y="55" width="1" height="795"/>
<rect x="8" y="813" width="1454" height="1"/>
<rect x="1272" y="63" width="5" height="1"/>
<rect x="1272" y="117" width="5" height="1"/>
<rect x="1272" y="171" width="5" height="1"/>
<rect x="1272" y="225" width="5" height="1"/>
<rect x="1272" y="278" width="5" height="1"/>
<rect x="1272" y="332" width="5" height="1"/>
<rect x="1272" y="386" width="5" height="1"/>
<rect x="1272" y="440" width="5" height="1"/>
<rect x="1272" y="493" width="5" height="1"/>
<rect x="1272" y="547" width="5" height="1"/>
<rect x="1272" y="601" width="5" height="1"/>
<rect x="1272" y="654" width="5" height="1"/>
<rect x="1272" y="708" width="5" height="1"/>
<rect x="1272" y="762" width="5" height="1"/>
<rect x="1362" y="79" width="5" height="1"/>
<rect x="1362" y="123" width="5" height="1"/>
<rect x="1362" y="167" width="5" height="1"/>
<rect x="1362" y="211" width="5" height="1"/>
<rect x="1362" y="255" width="5" height="1"/>
<rect x="1362" y="299" width="5" height="1"/>
<rect x="1362" y="343" width="5" height="1"/>
<rect x="1362" y="387" width="5" height="1"/>
<rect x="1362" y="431" width="5" height="1"/>
<rect x="1362" y="475" width="5" height="1"/>
<rect x="1362" y="519" width="5" height="1"/>
<rect x="1362" y="563" width="5" height="1"/>
<rect x="1362" y="607" width="5" height="1"/>
<rect x="1362" y="651" width="5" height="1"/>
<rect x="1362" y="695" width="5" height="1"/>
<rect x="1362" y="739" width="5" height="1"/>
<rect x="1362" y="783" width="5" height="1"/>
<rect x="55" y="814" width="1" height="5"/>
<rect x="204" y="814" width="1" height="5"/>
<rect x="356" y="814" width="1" height="5"/>
<rect x="458" y="814" width="1" height="5"/>
<rect x="571" y="814" width="1" height="5"/>
<rect x="689" y="814" width="1" height="5"/>
<rect x="797" y="814" width="1" height="5"/>
<rect x="946" y="814" width="1" height="5"/>
<rect x="1122" y="814" width="1" height="5"/>
<rect x="1227" y="814" width="1" height="5"/>
</g>
<g font-family='"Liberation Sans", "DejaVu Sans", sans-serif' text-rendering="geometricPrecision">
<text x="1282.22" y="69.60" font-size="15.5" font-weight="normal" fill="#50535e" textLength="68.38" lengthAdjust="spacingAndGlyphs">10.000000</text>
<text x="1282.15" y="123.60" font-size="15.5" font-weight="normal" fill="#50535e" textLength="60.63" lengthAdjust="spacingAndGlyphs">9.800000</text>
<text x="1282.15" y="177.60" font-size="15.5" font-weight="normal" fill="#50535e" textLength="60.63" lengthAdjust="spacingAndGlyphs">9.600000</text>
<text x="1282.15" y="231.60" font-size="15.5" font-weight="normal" fill="#50535e" textLength="60.63" lengthAdjust="spacingAndGlyphs">9.400000</text>
<text x="1282.15" y="284.60" font-size="15.5" font-weight="normal" fill="#50535e" textLength="60.63" lengthAdjust="spacingAndGlyphs">9.200000</text>
<text x="1282.15" y="338.60" font-size="15.5" font-weight="normal" fill="#50535e" textLength="60.63" lengthAdjust="spacingAndGlyphs">9.000000</text>
<text x="1282.15" y="392.60" font-size="15.5" font-weight="normal" fill="#50535e" textLength="60.63" lengthAdjust="spacingAndGlyphs">8.800000</text>
<text x="1282.15" y="446.60" font-size="15.5" font-weight="normal" fill="#50535e" textLength="60.63" lengthAdjust="spacingAndGlyphs">8.600000</text>
<text x="1282.15" y="499.60" font-size="15.5" font-weight="normal" fill="#50535e" textLength="60.63" lengthAdjust="spacingAndGlyphs">8.400000</text>
<text x="1282.15" y="553.60" font-size="15.5" font-weight="normal" fill="#50535e" textLength="60.63" lengthAdjust="spacingAndGlyphs">8.200000</text>
<text x="1282.15" y="607.60" font-size="15.5" font-weight="normal" fill="#50535e" textLength="60.63" lengthAdjust="spacingAndGlyphs">8.000000</text>
<text x="1281.97" y="660.60" font-size="15.5" font-weight="normal" fill="#50535e" textLength="60.82" lengthAdjust="spacingAndGlyphs">7.800000</text>
<text x="1281.97" y="714.60" font-size="15.5" font-weight="normal" fill="#50535e" textLength="60.82" lengthAdjust="spacingAndGlyphs">7.600000</text>
<text x="1281.97" y="768.60" font-size="15.5" font-weight="normal" fill="#50535e" textLength="60.82" lengthAdjust="spacingAndGlyphs">7.400000</text>
<text x="1372.06" y="86.10" font-size="15.5" font-weight="normal" fill="#50535e" textLength="76.63" lengthAdjust="spacingAndGlyphs">525.000000</text>
<text x="1372.06" y="130.10" font-size="15.5" font-weight="normal" fill="#50535e" textLength="76.63" lengthAdjust="spacingAndGlyphs">500.000000</text>
<text x="1372.42" y="174.10" font-size="15.5" font-weight="normal" fill="#50535e" textLength="76.26" lengthAdjust="spacingAndGlyphs">475.000000</text>
<text x="1372.42" y="218.10" font-size="15.5" font-weight="normal" fill="#50535e" textLength="76.26" lengthAdjust="spacingAndGlyphs">450.000000</text>
<text x="1372.42" y="262.10" font-size="15.5" font-weight="normal" fill="#50535e" textLength="76.26" lengthAdjust="spacingAndGlyphs">425.000000</text>
<text x="1372.42" y="306.10" font-size="15.5" font-weight="normal" fill="#50535e" textLength="76.26" lengthAdjust="spacingAndGlyphs">400.000000</text>
<text x="1372.06" y="350.10" font-size="15.5" font-weight="normal" fill="#50535e" textLength="76.63" lengthAdjust="spacingAndGlyphs">375.000000</text>
<text x="1372.06" y="394.10" font-size="15.5" font-weight="normal" fill="#50535e" textLength="76.63" lengthAdjust="spacingAndGlyphs">350.000000</text>
<text x="1372.06" y="438.10" font-size="15.5" font-weight="normal" fill="#50535e" textLength="76.63" lengthAdjust="spacingAndGlyphs">325.000000</text>
<text x="1372.06" y="482.10" font-size="15.5" font-weight="normal" fill="#50535e" textLength="76.63" lengthAdjust="spacingAndGlyphs">300.000000</text>
<text x="1371.87" y="526.10" font-size="15.5" font-weight="normal" fill="#50535e" textLength="76.81" lengthAdjust="spacingAndGlyphs">275.000000</text>
<text x="1371.87" y="570.10" font-size="15.5" font-weight="normal" fill="#50535e" textLength="76.81" lengthAdjust="spacingAndGlyphs">250.000000</text>
<text x="1371.87" y="614.10" font-size="15.5" font-weight="normal" fill="#50535e" textLength="76.81" lengthAdjust="spacingAndGlyphs">225.000000</text>
<text x="1371.87" y="658.10" font-size="15.5" font-weight="normal" fill="#50535e" textLength="76.81" lengthAdjust="spacingAndGlyphs">200.000000</text>
<text x="1372.01" y="702.10" font-size="15.5" font-weight="normal" fill="#50535e" textLength="76.67" lengthAdjust="spacingAndGlyphs">175.000000</text>
<text x="1372.01" y="746.10" font-size="15.5" font-weight="normal" fill="#50535e" textLength="76.67" lengthAdjust="spacingAndGlyphs">150.000000</text>
<text x="1372.01" y="790.10" font-size="15.5" font-weight="normal" fill="#50535e" textLength="76.67" lengthAdjust="spacingAndGlyphs">125.000000</text>
<text x="36.27" y="838.00" font-size="15.5" font-weight="normal" fill="#50535e" textLength="37.85" lengthAdjust="spacingAndGlyphs">12:00</text>
<text x="185.18" y="838.00" font-size="15.5" font-weight="normal" fill="#50535e" textLength="37.54" lengthAdjust="spacingAndGlyphs">18:00</text>
<text x="352.65" y="838.00" font-size="15.5" font-weight="bold" fill="#50535e" textLength="7.68" lengthAdjust="spacingAndGlyphs">3</text>
<text x="438.65" y="838.00" font-size="15.5" font-weight="normal" fill="#50535e" textLength="36.84" lengthAdjust="spacingAndGlyphs">05:03</text>
<text x="552.28" y="838.00" font-size="15.5" font-weight="normal" fill="#50535e" textLength="37.42" lengthAdjust="spacingAndGlyphs">12:27</text>
<text x="669.84" y="838.00" font-size="15.5" font-weight="normal" fill="#50535e" textLength="38.29" lengthAdjust="spacingAndGlyphs">20:00</text>
<text x="793.21" y="838.00" font-size="15.5" font-weight="normal" fill="#50535e" textLength="8.48" lengthAdjust="spacingAndGlyphs">4</text>
<text x="926.52" y="838.00" font-size="15.5" font-weight="normal" fill="#50535e" textLength="38.81" lengthAdjust="spacingAndGlyphs">06:00</text>
<text x="1103.18" y="838.00" font-size="15.5" font-weight="normal" fill="#50535e" textLength="37.42" lengthAdjust="spacingAndGlyphs">12:03</text>
<text x="1207.97" y="838.00" font-size="15.5" font-weight="normal" fill="#50535e" textLength="37.73" lengthAdjust="spacingAndGlyphs">18:06</text>
<circle cx="1316" cy="831.5" r="13" fill="#f0f3fa"/>
<circle cx="1411" cy="831.5" r="13" fill="#f0f3fa"/>
<text x="1311.70" y="835.60" font-size="13" font-weight="normal" fill="#50535e" textLength="8.66" lengthAdjust="spacingAndGlyphs">A</text>
<text x="1406.26" y="835.60" font-size="13" font-weight="normal" fill="#50535e" textLength="9.22" lengthAdjust="spacingAndGlyphs">B</text>
<g shape-rendering="crispEdges">
<line x1="9" y1="247.5" x2="1271" y2="247.5" stroke="#ef5350" stroke-width="1" stroke-dasharray="2 1"/>
<rect x="1271" y="237" width="82" height="21" fill="#ef5350"/>
<rect x="1301" y="259" width="52" height="21" fill="#ef5350"/>
<rect x="1271" y="284" width="82" height="21" fill="#ef5350"/>
<rect x="1272" y="247" width="5" height="1" fill="#ffffff"/>
<rect x="1272" y="294" width="5" height="1" fill="#ffffff"/>
</g>
<text x="1281.65" y="252.20" font-size="15.5" font-weight="normal" fill="#ffffff" textLength="61.44" lengthAdjust="spacingAndGlyphs">9.315000</text>
<text x="1305.43" y="274.20" font-size="15.5" font-weight="normal" fill="#ffffff" textLength="37.77" lengthAdjust="spacingAndGlyphs">02:05</text>
<text x="1281.65" y="299.00" font-size="15.5" font-weight="normal" fill="#ffffff" textLength="61.44" lengthAdjust="spacingAndGlyphs">9.315000</text>
<text x="18.76" y="81.70" font-size="15.5" font-weight="bold" fill="#50535e" textLength="71.24" lengthAdjust="spacingAndGlyphs">LINKUSD,</text>
<text x="95.29" y="81.70" font-size="15.5" font-weight="bold" fill="#50535e" textLength="13.68" lengthAdjust="spacingAndGlyphs">3,</text>
<text x="112.99" y="81.70" font-size="15.5" font-weight="bold" fill="#50535e" textLength="62.77" lengthAdjust="spacingAndGlyphs">GEMINI,</text>
<text x="179.82" y="81.70" font-size="15.5" font-weight="bold" fill="#50535e" textLength="46.98" lengthAdjust="spacingAndGlyphs">Heikin</text>
<text x="230.72" y="81.70" font-size="15.5" font-weight="bold" fill="#50535e" textLength="33.11" lengthAdjust="spacingAndGlyphs">Ashi</text>
<text x="19.70" y="102.70" font-size="15.5" font-weight="normal" fill="#50535e" textLength="23.82" lengthAdjust="spacingAndGlyphs">Vol</text>
<text x="19.03" y="123.80" font-size="15.5" font-weight="normal" fill="#50535e" textLength="58.25" lengthAdjust="spacingAndGlyphs">Hanging</text>
<text x="80.61" y="123.80" font-size="15.5" font-weight="normal" fill="#50535e" textLength="33.49" lengthAdjust="spacingAndGlyphs">Man</text>
<text x="117.47" y="123.80" font-size="15.5" font-weight="normal" fill="#50535e" textLength="6.47" lengthAdjust="spacingAndGlyphs">-</text>
<text x="127.69" y="123.80" font-size="15.5" font-weight="normal" fill="#50535e" textLength="34.21" lengthAdjust="spacingAndGlyphs">Bear</text>
<text x="165.82" y="123.80" font-size="15.5" font-weight="normal" fill="#50535e" textLength="60.90" lengthAdjust="spacingAndGlyphs">(SMA50,</text>
<text x="230.01" y="123.80" font-size="15.5" font-weight="normal" fill="#50535e" textLength="65.26" lengthAdjust="spacingAndGlyphs">SMA200)</text>
<text x="7.83" y="21.80" font-size="15.5" font-weight="bold" fill="#131722" textLength="70.09" lengthAdjust="spacingAndGlyphs">praslearn</text>
<text x="81.99" y="21.80" font-size="15.5" font-weight="normal" fill="#131722" textLength="69.22" lengthAdjust="spacingAndGlyphs">published</text>
<text x="155.16" y="21.80" font-size="15.5" font-weight="normal" fill="#131722" textLength="19.12" lengthAdjust="spacingAndGlyphs">on</text>
<text x="177.99" y="21.80" font-size="15.5" font-weight="normal" fill="#131722" textLength="131.75" lengthAdjust="spacingAndGlyphs">TradingView.com,</text>
<text x="313.10" y="21.80" font-size="15.5" font-weight="normal" fill="#131722" textLength="47.91" lengthAdjust="spacingAndGlyphs">August</text>
<text x="365.58" y="21.80" font-size="15.5" font-weight="normal" fill="#131722" textLength="23.01" lengthAdjust="spacingAndGlyphs">04,</text>
<text x="392.09" y="21.80" font-size="15.5" font-weight="normal" fill="#131722" textLength="36.11" lengthAdjust="spacingAndGlyphs">2020</text>
<text x="432.28" y="21.80" font-size="15.5" font-weight="normal" fill="#131722" textLength="63.42" lengthAdjust="spacingAndGlyphs">19:00:57</text>
<text x="499.87" y="21.80" font-size="15.5" font-weight="normal" fill="#131722" textLength="21.89" lengthAdjust="spacingAndGlyphs">IST</text>
<text x="8.21" y="43.80" font-size="15.5" font-weight="bold" fill="#131722" textLength="134.94" lengthAdjust="spacingAndGlyphs">GEMINI:LINKUSD,</text>
<text x="147.21" y="43.80" font-size="15.5" font-weight="bold" fill="#131722" textLength="8.68" lengthAdjust="spacingAndGlyphs">3</text>
<text x="161.99" y="43.80" font-size="15.5" font-weight="normal" fill="#131722" textLength="67.34" lengthAdjust="spacingAndGlyphs">9.315000</text>
<path d="M233.8 43 L239.95 31.2 L246.1 43 Z" fill="#26a69a"/>
<text x="251.29" y="43.80" font-size="15.5" font-weight="normal" fill="#131722" textLength="76.31" lengthAdjust="spacingAndGlyphs">+0.081120</text>
<text x="331.92" y="43.80" font-size="15.5" font-weight="normal" fill="#131722" textLength="64.03" lengthAdjust="spacingAndGlyphs">(+0.88%)</text>
<text x="401.21" y="43.80" font-size="15.5" font-weight="bold" fill="#131722" textLength="17.55" lengthAdjust="spacingAndGlyphs">O:</text>
<text x="418.89" y="43.80" font-size="15.5" font-weight="normal" fill="#26a69a" textLength="67.75" lengthAdjust="spacingAndGlyphs">9.349345</text>
<text x="491.69" y="43.80" font-size="15.5" font-weight="bold" fill="#131722" textLength="17.00" lengthAdjust="spacingAndGlyphs">H:</text>
<text x="508.69" y="43.80" font-size="15.5" font-weight="normal" fill="#26a69a" textLength="67.75" lengthAdjust="spacingAndGlyphs">9.349345</text>
<text x="581.79" y="43.80" font-size="15.5" font-weight="bold" fill="#131722" textLength="13.78" lengthAdjust="spacingAndGlyphs">L:</text>
<text x="595.89" y="43.80" font-size="15.5" font-weight="normal" fill="#26a69a" textLength="68.26" lengthAdjust="spacingAndGlyphs">9.315000</text>
<text x="668.74" y="43.80" font-size="15.5" font-weight="bold" fill="#131722" textLength="15.86" lengthAdjust="spacingAndGlyphs">C:</text>
<text x="684.79" y="43.80" font-size="15.5" font-weight="normal" fill="#26a69a" textLength="68.06" lengthAdjust="spacingAndGlyphs">9.315000</text>
<g><g fill="#2196f3"><circle cx="12.9" cy="876.1" r="5.0"/><circle cx="21.0" cy="869.5" r="6.7"/><circle cx="34.2" cy="876.2" r="5.75"/><path d="M12.4 872.5 L26 866 L28.8 868.2 L34.6 868.2 L36.2 871 L35 881.95 L12.4 881.95 Q10.2 881.95 9.6 880 Z"/></g><path fill="none" stroke="#fff" stroke-width="1.15" stroke-linejoin="round" stroke-linecap="butt" d="M9.6 879.1 L19.9 870.6 L27.75 877.4 L35.9 869.4"/><circle cx="19.9" cy="870.4" r="2.0" fill="#fff"/><circle cx="27.75" cy="877.4" r="2.2" fill="#fff"/></g>
<text x="42.10" y="877.80" font-size="15.5" font-weight="normal" fill="#131722" textLength="88.85" lengthAdjust="spacingAndGlyphs">TradingView</text>
</g>
</svg>
</body>
</html>
